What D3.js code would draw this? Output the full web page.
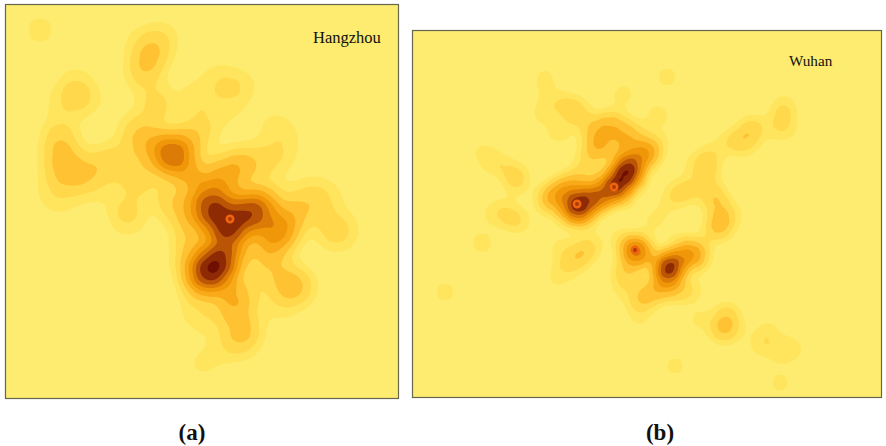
<!DOCTYPE html>
<html>
<head>
<meta charset="utf-8">
<style>
  body { margin: 0; background: #fff; }
  svg { display: block; }
  .bands { filter: blur(0.6px); }
  text { font-family: "Liberation Serif", serif; fill: #111; }
</style>
<script src="https://cdnjs.cloudflare.com/ajax/libs/d3/7.8.5/d3.min.js"></script>
</head>
<body>
<svg width="886" height="446"></svg>
<script>
// Density levels and the colour of the band above each one
const levels = [0.5, 1.1, 2, 3.2, 4.6, 6.2, 8, 10, 12.5];
const bandColors = ["#ffe55e", "#ffd84c", "#fec233", "#f9aa18", "#ef9708", "#dc7b06", "#b95505", "#8e2a04", "#6e0f02"];
const baseColor = "#fdec6f";

// Hangzhou density points: [x, y, weight]
const hangzhouSpots = [
  [34, 25, .85], [149, 40, 1.3], [142, 55, 1.6], [137, 70, 1.2], [159, 30, .5], [129, 35, .4],
  [70, 91, 1.3], [54, 100, .6], [84, 95, .5], [69, 73, .5],
  [54, 133, 1.7], [56, 150, 1.2], [64, 167, 1.9], [49, 165, .8], [79, 170, 1],
  [94, 160, 1.1], [109, 155, 1.1], [125, 165, 1], [140, 172, .8],
  [166, 150, 8.5], [149, 135, 1], [184, 135, 1.6], [139, 140, 1.6], [129, 125, 1.3], [151, 100, 1.6], [191, 93, 1],
  [184, 170, 2.6], [204, 185, 3.2],
  [204, 205, 8.5], [222, 222, 10], [246, 208, 9.5], [222, 200, 2.5],
  [202, 268, 10.5], [216, 255, 8.5], [222, 240, 2],
  [274, 225, 4.5], [264, 235, 2], [259, 195, 2.2], [284, 210, 1.4], [294, 200, 1],
  [219, 170, 3], [234, 160, 1.6], [244, 160, 1], [264, 155, 1.1],
  [223, 83, 1.1], [209, 70, .5], [240, 80, .5], [225, 110, .5], [199, 115, .6], [194, 130, .6],
  [279, 125, .5], [279, 145, .6], [264, 120, .5], [304, 185, .6], [324, 190, .5],
  [332, 230, 1], [314, 210, .6], [339, 220, .5], [314, 195, .5], [322, 225, .5],
  [254, 250, 1.3], [269, 260, 1.3], [291, 282, 2], [279, 280, 1.3],
  [229, 290, 2.8], [226, 305, 1.5], [237, 325, 2.2], [234, 340, .8], [256, 285, .5], [274, 305, .6],
  [194, 285, 1], [189, 305, .6], [199, 315, .6], [194, 360, .6], [214, 345, .6],
  [122, 213, 1.2], [119, 200, .5], [44, 190, .6], [59, 195, .6], [89, 185, .6], [129, 185, .5],
  [164, 195, 1.3], [179, 205, 1.8], [184, 230, 1.6], [189, 250, 1.6], [179, 265, .8],
  [259, 3, .5]
];

// Wuhan density points: [x, y, weight]
const wuhanSpots = [
  [182, 99, 2.2], [197, 94, 2.6], [212, 99, 1.9], [187, 114, 2.2], [207, 114, 2], [183, 119, 1.4],
  [172, 129, 1], [169, 149, 1.5], [157, 154, 1.8], [142, 164, 2.6], [135, 169, 1.6], [152, 159, 1.8],
  [164, 173, 10], [177, 164, 3], [164, 184, 2.5], [172, 184, 1.8], [149, 179, 1.6],
  [187, 167, 3.4], [182, 169, 3.4], [201, 156, 9.5], [212, 144, 8], [215, 134, 6.5], [222, 147, 2.2], [209, 164, 1.8],
  [227, 129, 1.8], [232, 124, 2.4], [237, 119, 2], [247, 109, .5], [227, 104, 1], [219, 114, 1.3],
  [187, 144, 1], [197, 139, .6],
  [147, 72, .8], [159, 77, 1.3], [169, 82, .8], [132, 44, .6], [132, 59, .5], [128, 84, .4],
  [145, 101, .9], [132, 79, .5], [162, 94, .5], [27, 96, .5],
  [82, 132, .7], [104, 147, 1.3], [97, 139, .7], [77, 129, .5], [67, 119, .5], [102, 159, .4],
  [87, 179, .6], [97, 186, 1.1], [107, 191, .8], [69, 212, .9], [77, 184, .5], [32, 261, .85],
  [169, 222, 1.4], [162, 231, 1], [177, 214, 1], [147, 214, .6], [142, 249, .5], [150, 229, .6], [152, 241, .5],
  [222, 219, 7], [207, 209, .8], [212, 239, 1.5], [215, 249, .8], [227, 231, 1], [235, 224, 1.5],
  [256, 236, 11], [267, 227, 2.5], [279, 224, 3.5], [252, 249, 2.6], [257, 254, 1.5], [285, 229, 1], [287, 214, .8], [267, 214, 1],
  [242, 259, 1.3], [227, 266, 1.2], [237, 264, 1.2], [277, 259, 1.2], [262, 260, 1],
  [225, 274, .6], [227, 289, .6], [287, 289, .8],
  [314, 284, 1.6], [310, 299, 2.2], [325, 299, .5],
  [355, 299, .7], [352, 314, .55], [372, 314, .55], [382, 319, .55], [367, 324, .55], [347, 314, .5],
  [262, 335, .8], [367, 352, .8],
  [254, 46, .85], [245, 84, .9],
  [339, 97, 1.6], [335, 109, .8], [322, 109, .6], [317, 111, .7], [332, 114, .6],
  [370, 81, 1], [367, 94, .6], [377, 99, .5], [362, 99, .5], [372, 74, .5],
  [294, 129, 1.4], [293, 144, 1.5], [299, 164, 1.6], [307, 174, 1.3], [309, 189, 1.5], [305, 199, 1.3],
  [277, 159, 1.2], [265, 162, 1.1], [257, 169, .5], [247, 184, .5], [237, 194, .5], [322, 184, .5], [302, 119, .4],
  [304, 194, .8], [277, 134, .5], [212, 59, .5], [207, 69, .5], [207, 259, .5]
];

// Sharp peaks at the centre of the hottest cells: [x, y]
const hangzhouPeaks = [[224, 214]];
const wuhanPeaks = [[164, 173], [201, 156], [222, 219]];

const svg = d3.select("svg");

// Panel frames on the page
const panels = [
  { id: "a", name: "Hangzhou", left: 6, top: 5, w: 392, h: 393, sigma: 12, spots: hangzhouSpots, peaks: hangzhouPeaks,
    nameX: 313, nameY: 43, nameSize: 16.5, tag: "(a)", tagX: 192 },
  { id: "b", name: "Wuhan", left: 413, top: 31, w: 468, h: 366, sigma: 8.5, spots: wuhanSpots, peaks: wuhanPeaks,
    nameX: 789, nameY: 66, nameSize: 15.2, tag: "(b)", tagX: 660 }
];

panels.forEach(p => {
  const x = d3.scaleLinear().domain([0, p.w]).range([0, p.w]);
  const y = d3.scaleLinear().domain([0, p.h]).range([0, p.h]);

  svg.append("clipPath").attr("id", "clip-" + p.id)
    .append("rect").attr("width", p.w).attr("height", p.h);

  const g = svg.append("g").attr("transform", `translate(${p.left},${p.top})`);
  const bands = g.append("g").attr("class", "bands").attr("clip-path", `url(#clip-${p.id})`);

  bands.append("rect").attr("width", p.w).attr("height", p.h).attr("fill", baseColor);

  // thresholds are density per px, so one lone point of weight w peaks at level w
  const density = d3.contourDensity()
    .x(d => x(d[0]))
    .y(d => y(d[1]))
    .weight(d => d[2])
    .size([p.w, p.h])
    .cellSize(2)
    .bandwidth(p.sigma)
    .thresholds(levels.map(l => l / (2 * Math.PI * p.sigma * p.sigma)));

  const color = d3.scaleOrdinal().domain(d3.range(levels.length)).range(bandColors);

  bands.selectAll("path")
    .data(density(p.spots))
    .join("path")
    .attr("d", d3.geoPath())
    .attr("fill", (d, i) => color(i));

  bands.selectAll("circle.ring")
    .data(p.peaks)
    .join("circle")
    .attr("class", "ring")
    .attr("cx", d => x(d[0]))
    .attr("cy", d => y(d[1]))
    .attr("r", 3.2)
    .attr("fill", "#a83c06")
    .attr("stroke", "#f0640f")
    .attr("stroke-width", 2.6);

  g.append("rect")
    .attr("x", -0.5).attr("y", -0.5)
    .attr("width", p.w + 1).attr("height", p.h + 1)
    .attr("fill", "none")
    .attr("stroke", "#66664e")
    .attr("stroke-width", 1.2);

  svg.append("text")
    .attr("x", p.nameX).attr("y", p.nameY)
    .attr("font-size", p.nameSize)
    .text(p.name);

  svg.append("text")
    .attr("x", p.tagX).attr("y", 440)
    .attr("text-anchor", "middle")
    .attr("font-size", 23)
    .attr("font-weight", "bold")
    .text(p.tag);
});
</script>
</body>
</html>
